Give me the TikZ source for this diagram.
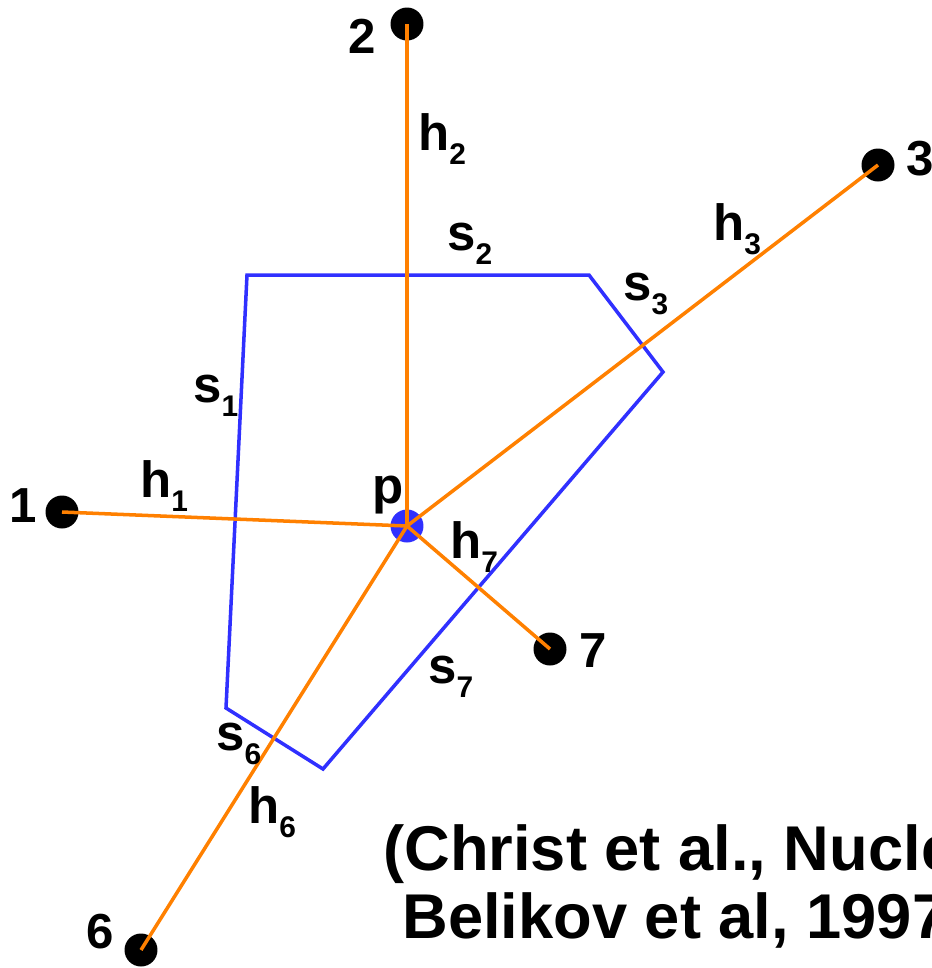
\documentclass[tikz,border=0pt]{standalone}
\usepackage{fontspec}
\setmainfont{Liberation Sans}
\usetikzlibrary{positioning}

\definecolor{hOrange}{RGB}{255,128,0}
\definecolor{cellBlue}{RGB}{48,48,255}

% letter with a lowered index, as in h_2 or s_7
\newcommand{\hsl}[2]{#1\raisebox{-8.5pt}{\fontsize{17}{17}\selectfont #2}}

\begin{document}
\begin{tikzpicture}[
    x=0.02cm, y=-0.02cm,
    font=\bfseries,
    % node styles
    site/.style      = {circle, fill=black, inner sep=0pt, minimum size=0.66cm},
    ctr/.style       = {circle, fill=cellBlue, inner sep=0pt, minimum size=0.66cm},
    sitelbl/.style   = {inner sep=0pt, anchor=base, font=\fontsize{28}{28}\selectfont\bfseries},
    elbl/.style      = {inner sep=0pt, anchor=base west, font=\fontsize{29}{29}\selectfont\bfseries},
    cite/.style      = {inner sep=0pt, anchor=base west, font=\fontsize{36}{36}\selectfont\bfseries},
    % lines
    cell/.style      = {cellBlue, line width=2pt, line join=miter},
    hline/.style     = {hOrange, line width=2pt}
  ]

\path[use as bounding box] (0,0) rectangle (932,968);
\clip (0,0) rectangle (932,968);

% ============================================================
% Voronoi cell of p (blue)
% ============================================================
\coordinate (v1) at (247,275);
\coordinate (v2) at (589,275);
\coordinate (v3) at (663,372);
\coordinate (v4) at (323,769);
\coordinate (v5) at (226,708);
\draw[cell] (v1) -- (v2) -- (v3) -- (v4) -- (v5) -- cycle;

% ============================================================
% Points: p and its neighbours
% ============================================================
\node[ctr]  (p)     at (407,526) {};
\node[site] (site1) at (62,512)  {};
\node[site] (site2) at (407,24)  {};
\node[site] (site3) at (878,165) {};
\node[site] (site6) at (141,950) {};
\node[site] (site7) at (550,649) {};

\node[sitelbl] (num1) at (23,522)  {1};
\node[sitelbl] (num2) at (362,53)  {2};
\node[sitelbl, anchor=base west] (num3) at (906,175) {3};
\node[sitelbl] (num6) at (100,948) {6};
\node[sitelbl] (num7) at (593,667) {7};
\node[elbl] (plbl) at (372,503) {p};

% edges p -- neighbours (orange)
\draw[hline] (p.center) -- (site1.center);
\draw[hline] (p.center) -- (site2.center);
\draw[hline] (p.center) -- (site3.center);
\draw[hline] (p.center) -- (site6.center);
\draw[hline] (p.center) -- (site7.center);

% ============================================================
% Labels of distances h_i and faces s_i
% ============================================================
\node[elbl] (lh1) at (140,497) {\hsl{h}{1}};
\node[elbl] (lh2) at (418,150) {\hsl{h}{2}};
\node[elbl] (lh3) at (713,240) {\hsl{h}{3}};
\node[elbl] (lh6) at (248,823) {\hsl{h}{6}};
\node[elbl] (lh7) at (450,558) {\hsl{h}{7}};

\node[elbl] (ls1) at (193,402) {\hsl{s}{1}};
\node[elbl] (ls2) at (447,250) {\hsl{s}{2}};
\node[elbl] (ls3) at (623,300) {\hsl{s}{3}};
\node[elbl] (ls6) at (216,750) {\hsl{s}{6}};
\node[elbl] (ls7) at (428,683) {\hsl{s}{7}};

% ============================================================
% Reference
% ============================================================
\node[cite] (ref1) at (383,870) {(Christ et al., Nuclear};
\node[cite] (ref2) at (402,938) {Belikov et al, 1997)};

\end{tikzpicture}
\end{document}
